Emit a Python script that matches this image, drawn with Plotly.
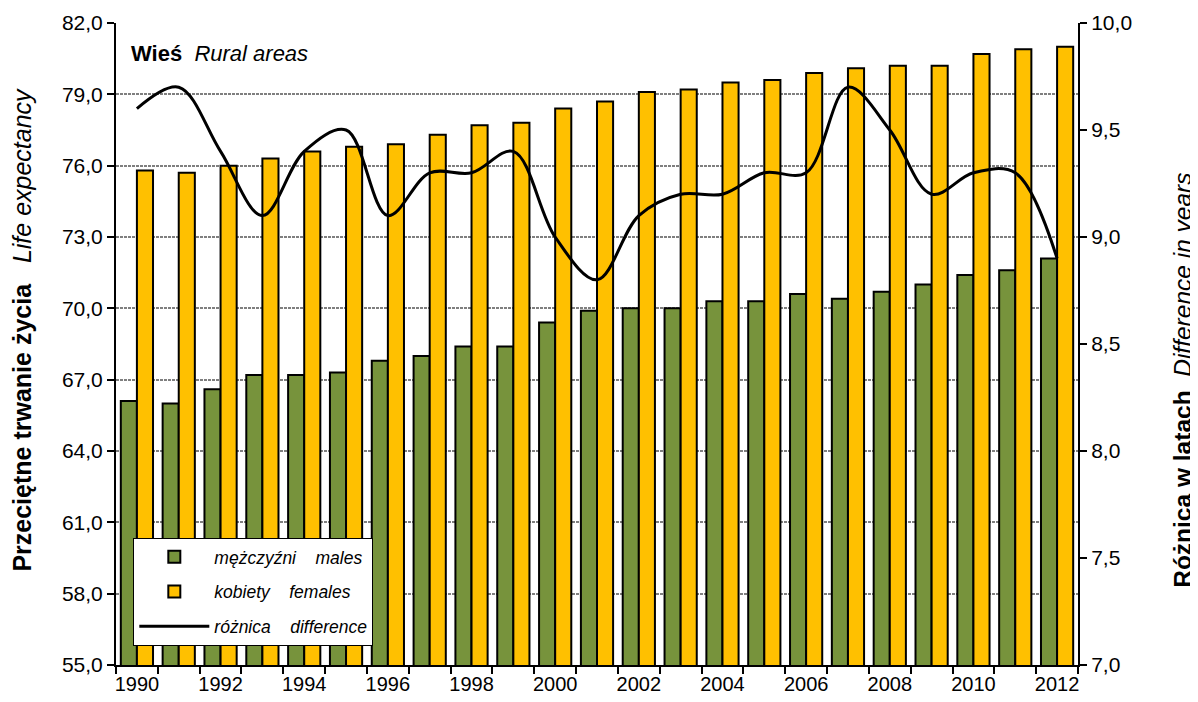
import plotly.graph_objects as go
from plotly.subplots import make_subplots

years = list(range(1990, 2013))
males = [66.1, 66.0, 66.6, 67.2, 67.2, 67.3, 67.8, 68.0, 68.4, 68.4, 69.4, 69.9,
         70.0, 70.0, 70.3, 70.3, 70.6, 70.4, 70.7, 71.0, 71.4, 71.6, 72.1]
females = [75.8, 75.7, 76.0, 76.3, 76.6, 76.8, 76.9, 77.3, 77.7, 77.8, 78.4, 78.7,
           79.1, 79.2, 79.5, 79.6, 79.9, 80.1, 80.2, 80.2, 80.7, 80.9, 81.0]
difference = [9.6, 9.7, 9.4, 9.1, 9.4, 9.5, 9.1, 9.3, 9.3, 9.4, 9.0, 8.8,
              9.1, 9.2, 9.2, 9.3, 9.3, 9.7, 9.5, 9.2, 9.3, 9.3, 8.9]

FONT = "Liberation Sans, Arial, sans-serif"

fig = make_subplots(specs=[[{"secondary_y": True}]])

fig.add_trace(go.Bar(x=years, y=males, name="<i>mężczyźni    males</i>",
                     marker=dict(color="#77933C", line=dict(color="black", width=2)),
                     legendgroup="m"), secondary_y=False)
fig.add_trace(go.Bar(x=years, y=females, name="<i>kobiety    females</i>",
                     marker=dict(color="#FFC000", line=dict(color="black", width=2)),
                     legendgroup="f"), secondary_y=False)
fig.add_trace(go.Scatter(x=years, y=difference, name="<i>różnica    difference</i>",
                         mode="lines", line=dict(color="black", width=3, shape="spline", smoothing=1.0),
                         legendgroup="d"), secondary_y=True)

# page body has an 8px margin, so the figure is 8px smaller and offsets shifted
fig.update_layout(
    width=1190, height=694,
    margin=dict(l=108, r=120, t=15, b=37, autoexpand=False),
    plot_bgcolor="white", paper_bgcolor="white",
    separators=", ",
    barmode="group", bargap=0.23, bargroupgap=0,
    font=dict(family=FONT, color="black", size=20),
    legend=dict(x=0.018, y=0.198, xanchor="left", yanchor="top",
                bgcolor="white", bordercolor="black", borderwidth=1,
                font=dict(size=17.5, family=FONT), tracegroupgap=9,
                traceorder="grouped", itemwidth=70),
    annotations=[
        dict(x=0.014, y=0.975, xref="paper", yref="paper", xanchor="left", yanchor="top",
             text="<b>Wieś</b>  <i>Rural areas</i>", showarrow=False,
             font=dict(size=22, family=FONT)),
        dict(x=-0.098, y=0.522, xref="paper", yref="paper", xanchor="center", yanchor="middle",
             textangle=-90, showarrow=False,
             text="<b>Przeciętne trwanie życia</b>   <i>Life expectancy</i>",
             font=dict(size=25, family=FONT)),
        dict(x=1.109, y=0.444, xref="paper", yref="paper", xanchor="center", yanchor="middle",
             textangle=-90, showarrow=False,
             text="<b>Różnica w latach</b>  <i>Difference in years</i>",
             font=dict(size=24.5, family=FONT)),
    ],
)

fig.update_xaxes(domain=[0, 1], range=[1989.5, 2012.5], tick0=1990, dtick=2, ticks="", automargin=False,
                 minor=dict(tick0=1989.5, dtick=1, ticks="outside", ticklen=7, tickwidth=2, tickcolor="black"),
                 showline=True, linecolor="black", linewidth=2, showgrid=False,
                 tickfont=dict(size=20))

fig.update_yaxes(range=[55, 82], tick0=55, dtick=3, tickformat=".1f", secondary_y=False,
                 automargin=False,
                 showline=True, linecolor="black", linewidth=2, ticks="outside", ticklen=7,
                 tickwidth=2, tickcolor="black",
                 showgrid=True, gridcolor="#7f7f7f", gridwidth=2, griddash="3px,1px",
                 tickfont=dict(size=21))
fig.update_yaxes(range=[7, 10], tick0=7, dtick=0.5, tickformat=".1f", secondary_y=True,
                 automargin=False,
                 showline=True, linecolor="black", linewidth=2, ticks="outside", ticklen=7,
                 tickwidth=2, tickcolor="black", showgrid=False,
                 tickfont=dict(size=21))

fig.write_html("out.html")
